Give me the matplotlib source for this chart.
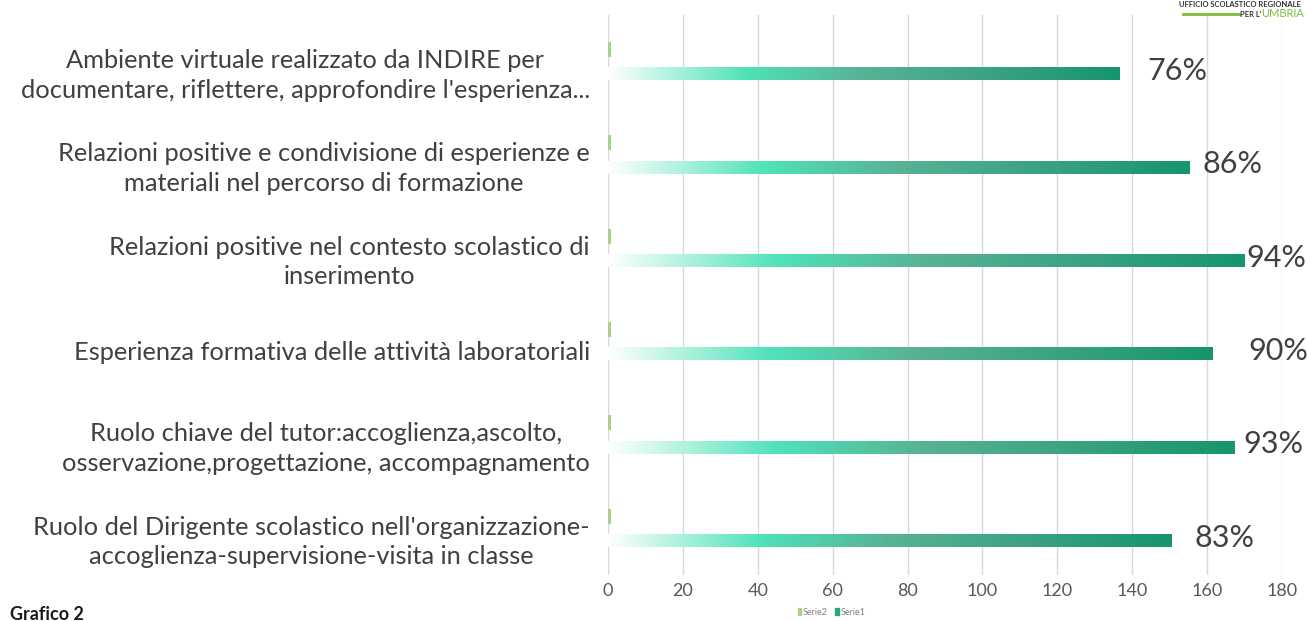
import matplotlib.pyplot as plt
import numpy as np
from matplotlib.colors import LinearSegmentedColormap
from matplotlib.patches import Patch

categories = [
    "Ambiente virtuale realizzato da INDIRE per\ndocumentare, riflettere, approfondire l'esperienza...",
    "Relazioni positive e condivisione di esperienze e\nmateriali nel percorso di formazione",
    "Relazioni positive nel contesto scolastico di\ninserimento",
    "Esperienza formativa delle attività laboratoriali",
    "Ruolo chiave del tutor:accoglienza,ascolto,\nosservazione,progettazione, accompagnamento",
    "Ruolo del Dirigente scolastico nell'organizzazione-\naccoglienza-supervisione-visita in classe",
]
serie1 = [136.5, 155.2, 170, 161.5, 167.3, 150.5]
serie2 = [0.7, 0.7, 0.7, 0.7, 0.7, 0.7]
pct_labels = ["76%", "86%", "94%", "90%", "93%", "83%"]
# manual label offsets (data units) as in the original
label_dx = [7.5, 3.5, 0.6, 9.5, 2.5, 6.0]

text_col = "#404040"
grad = LinearSegmentedColormap.from_list("g", [
    (0.0, "#ffffff"), (0.27, "#4fe2b8"), (0.5, "#58b296"), (0.75, "#3aa283"), (1.0, "#16956e")])

plt.rcParams['font.family'] = ['Lato', 'DejaVu Sans']

fig = plt.figure(figsize=(13.07, 6.21), dpi=100)
ax = fig.add_axes([0.4652, 0.074, 0.5157, 0.902])

y = np.arange(len(categories))
h = 0.14
bars = ax.barh(y + 0.13, serie1, height=h, facecolor="none", edgecolor="none", zorder=3)
ax.barh(y - 0.13, serie2, height=0.16, color="#a9d18e", zorder=3)

gimg = np.linspace(0, 1, 256).reshape(1, -1)
for b in bars:
    x0, y0 = b.get_x(), b.get_y()
    im = ax.imshow(gimg, cmap=grad, aspect="auto", zorder=3,
                   extent=[x0, x0 + b.get_width(), y0 + b.get_height(), y0])
    im.set_clip_path(b)

for i, v in enumerate(serie1):
    ax.text(v + label_dx[i], y[i] + 0.1, pct_labels[i], fontsize=22, color=text_col,
            va="center", ha="left")

ax.set_xlim(0, 180)
ax.set_ylim(len(categories) - 0.5, -0.5)
ax.set_xticks(np.arange(0, 181, 20))
ax.tick_params(axis="x", length=0, labelsize=13, labelcolor="#595959", pad=6)
ax.set_yticks(y + 0.09)
ax.set_yticklabels(categories, fontsize=18.3, color=text_col, multialignment="center",
                   linespacing=1.35)
ax.tick_params(axis="y", length=0, pad=13)
ax.grid(axis="x", color="#d9d9d9", linewidth=1)
ax.set_axisbelow(True)
for s in ax.spines.values():
    s.set_visible(False)

fig.text(0.008, -0.004, "Grafico 2", fontsize=13, fontweight="bold", color="#1a1a1a", va="bottom")

# legend
leg = fig.legend(handles=[Patch(color="#a9d18e"), Patch(color="#2aa57f")], labels=["Serie2", "Serie1"],
                 loc="lower left", bbox_to_anchor=(0.604, -0.006), ncol=2, frameon=False,
                 fontsize=6.5, handlelength=0.4, handleheight=0.7, columnspacing=0.8, handletextpad=0.2)
for t in leg.get_texts():
    t.set_color("#808080")

# logo top right
fig.text(0.995, 0.992, "UFFICIO SCOLASTICO REGIONALE", fontsize=5.5, fontweight="bold",
         color="#333333", ha="right", va="center")
fig.add_artist(plt.Line2D([0.905, 0.948], [0.977, 0.977], color="#7cbf3a", lw=2))
fig.text(0.965, 0.976, "PER L'", fontsize=5.5, fontweight="bold", color="#333333", ha="right", va="center")
fig.text(0.965, 0.978, "UMBRIA", fontsize=8, color="#7cbf3a", ha="left", va="center")

fig.savefig("out.png", dpi=100)
